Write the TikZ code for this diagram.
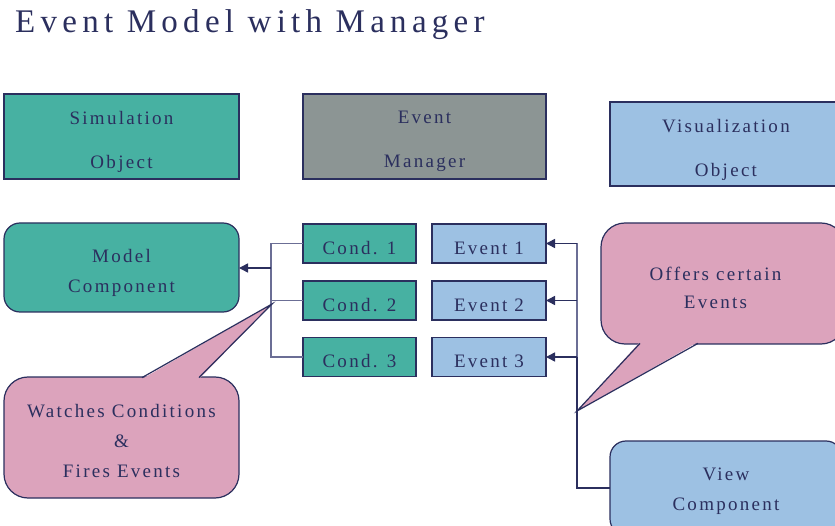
\documentclass[tikz,border=0pt]{standalone}
\usepackage{fontspec}
\setmainfont{Liberation Serif}
\newfontfamily\lblfont[LetterSpace=12]{Liberation Serif}
\newfontfamily\headfont[LetterSpace=16]{Liberation Serif}
\usetikzlibrary{arrows.meta}
\definecolor{ink}{HTML}{2B2F5E}
\definecolor{wirecol}{HTML}{6B6E95}
\definecolor{simteal}{HTML}{47B1A2}
\definecolor{mgrgray}{HTML}{8C9594}
\definecolor{visblue}{HTML}{9DC1E3}
\definecolor{notepink}{HTML}{DCA3BC}
\tikzset{
  box/.style={draw=ink, line width=1.2pt, inner sep=0pt, outer sep=0pt},
  smallbox/.style={box, minimum height=39},
  txt/.style={text=ink, align=center, inner sep=0pt,
    font=\lblfont\fontsize{19}{30}\selectfont},
  toptxt/.style={txt, font=\lblfont\fontsize{19}{44}\selectfont},
  wire/.style={draw=wirecol, line width=1.3pt},
  darkwire/.style={draw=ink, line width=1.5pt},
  arr/.style={darkwire, -{Triangle[length=9pt,width=9pt]}},
  edge/.style={draw=ink, line width=1.2pt, line join=miter},
}
\begin{document}
\begin{tikzpicture}[x=1pt,y=-1pt]
\clip (0,0) rectangle (835,526);
\fill[white] (0,0) rectangle (835,526);

% heading
\node[anchor=base west, inner sep=0pt, text=ink,
  font=\headfont\fontsize{33}{40}\selectfont] (title) at (15,33)
  {Event Model with Manager};

% top row: the three objects
\node[box, fill=simteal, minimum width=235, minimum height=85] (sim) at (121.5,136.5) {};
\node[box, fill=mgrgray, minimum width=243, minimum height=85] (mgr) at (424.5,136.5) {};
\node[box, fill=visblue, minimum width=232, minimum height=84] (vis) at (726,144) {};
\node[toptxt] (simtext) at ([yshift=-5]sim.center) {Simulation\\Object};
\node[toptxt] (mgrtext) at ([yshift=-5]mgr.center) {Event\\Manager};
\node[toptxt] (vistext) at ([yshift=-5.5]vis.center) {Visualization\\Object};

% components
\node[box, rounded corners=16, fill=simteal, minimum width=235, minimum height=89] (mc) at (121.5,267.5) {};
\node[box, rounded corners=16, fill=visblue, minimum width=232, minimum height=94] (vc) at (726,488) {};
\node[txt] (mctext) at ([yshift=-5.5]mc.center) {Model\\Component};
\node[txt] (vctext) at ([yshift=-3.5]vc.center) {View\\Component};

% conditions and events
\node[smallbox, fill=simteal, minimum width=113] (c1) at (359.5,243.5) {};
\node[smallbox, fill=simteal, minimum width=113] (c2) at (359.5,300.5) {};
\node[smallbox, fill=simteal, minimum width=113] (c3) at (359.5,357) {};
\node[smallbox, fill=visblue, minimum width=114] (e1) at (489,243.5) {};
\node[smallbox, fill=visblue, minimum width=114] (e2) at (489,300.5) {};
\node[smallbox, fill=visblue, minimum width=114] (e3) at (489,357) {};
\foreach \n/\t in {c1/Cond. 1, c2/Cond. 2, c3/Cond. 3,
                   e1/Event 1, e2/Event 2, e3/Event 3}
  \node[txt] (\n text) at ([yshift=-4.5]\n.center) {\t};

% condition side wiring
\coordinate (jl) at (271,268);
\draw[wire] (c1.west) -- (c1.west -| jl) -- (c3.west -| jl) -- (c3.west);
\draw[wire] (c2.west) -- (c2.west -| jl);
\draw[arr] (jl) -- (jl -| mc.east);

% event side wiring
\coordinate (jr) at (577,243.5);
\draw[wire] (e1.east -| jr) -- (e3.east -| jr);
\draw[darkwire] (e3.east -| jr) -- (vc.west -| jr) -- (vc.west);
\draw[arr] (e1.east -| jr) -- (e1.east);
\draw[arr] (e2.east -| jr) -- (e2.east);
\draw[arr] (e3.east -| jr) -- (e3.east);

% callout: watches conditions
\coordinate (tipl) at (272,304);
\node[box, rounded corners=24, fill=notepink, minimum width=235, minimum height=121] (wc) at (121.5,437.5) {};
\fill[notepink] (142,379) -- (tipl) -- (199,379) -- cycle;
\draw[edge] (142,377.6) -- (tipl) -- (199,377.6);
\node[txt] (wctext) at ([yshift=-3.5]wc.center) {Watches Conditions\\\&\\Fires Events};

% callout: offers events
\coordinate (tipr) at (577,411);
\node[box, rounded corners=24, fill=notepink, minimum width=244, minimum height=121] (oc) at (723,283.5) {};
\fill[notepink] (640,342) -- (tipr) -- (698,342) -- cycle;
\draw[edge] (640,343.4) -- (tipr) -- (698,343.4);
\node[txt, font=\lblfont\fontsize{19}{28}\selectfont] (octext) at (715.5,288) {Offers certain\\Events};
\end{tikzpicture}
\end{document}
